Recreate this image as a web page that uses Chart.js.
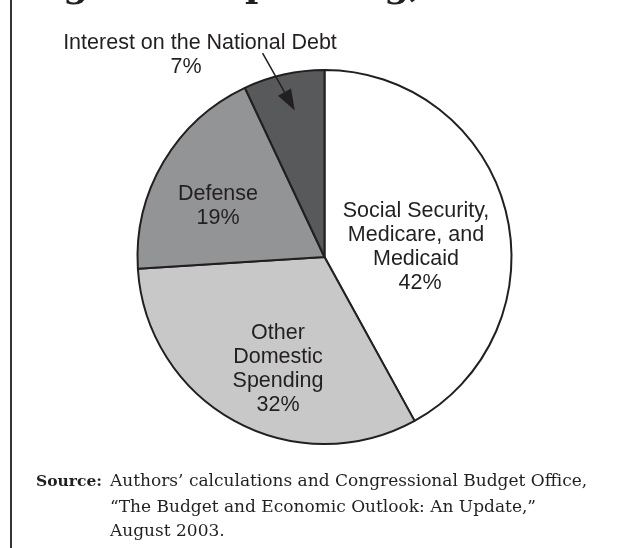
<!DOCTYPE html>
<html lang="en">

<head>
    <meta charset="UTF-8">
    <title>Federal Spending, 2003</title>
    <script src="https://cdn.jsdelivr.net/npm/chart.js"></script>
    <style>
        body { margin: 0; background: #fff; }
        #wrap { position: relative; width: 626px; height: 548px; overflow: hidden; }
        #wrap canvas { position: absolute; left: 0; top: 0; }
        .frame { position: absolute; left: 10px; top: 0; width: 2px; height: 548px; background: #333; }
        .title { position: absolute; left: 24px; top: -37px; font: bold 36px "DejaVu Serif", serif; color: #231f20; white-space: nowrap; }
        .lbl { position: absolute; font: 21.5px "Liberation Sans", Arial, sans-serif; line-height: 24px; color: #231f20; text-align: center; white-space: nowrap; transform: translate(-50%, -50%); }
        .lbl span { position: relative; }
        .source { position: absolute; left: 36px; top: 468px; font: 17px "DejaVu Serif", serif; line-height: 24.5px; color: #231f20; white-space: nowrap; }
        .source b { display: inline-block; width: 74px; font-size: 15.5px; }
        .source div { padding-left: 74px; }
    </style>
</head>

<body>
    <div id="wrap">
        <canvas id="pie" width="626" height="548"></canvas>
        <div class="frame"></div>
        <div class="title">Figure 1. Spending, 2003</div>
        <div id="labels"></div>
        <div class="source">
            <b>Source:</b>Authors’ calculations and Congressional Budget Office,
            <div>“The Budget and Economic Outlook: An Update,”</div>
            <div>August 2003.</div>
        </div>
    </div>

    <script>
        // shares of federal spending, clockwise from 12 o'clock
        const categories = ['Social Security, Medicare, and Medicaid', 'Other Domestic Spending', 'Defense', 'Interest on the National Debt'];
        const shares = [42, 32, 19, 7];
        const labelLines = [
            ['Social Security,', 'Medicare, and', 'Medicaid', '42%'],
            ['Other', 'Domestic', 'Spending', '32%'],
            ['Defense', '19%'],
            ['Interest on the National Debt', '7%']
        ];
        const fills = ['#ffffff', '#c8c8c9', '#939495', '#58595b'];

        // where each label block sits (center, px) and how far its last line is nudged
        const labelSpots = [[416, 246], [278, 368], [218, 205], [200, 54]];
        const lastNudge = [4, 0, 0, -14];
        const holder = document.getElementById('labels');
        labelLines.forEach((lines, i) => {
            const d = document.createElement('div');
            d.className = 'lbl';
            d.style.left = labelSpots[i][0] + 'px';
            d.style.top = labelSpots[i][1] + 'px';
            const head = lines.slice(0, -1).join('<br>');
            d.innerHTML = head + '<br><span style="left:' + lastNudge[i] + 'px">' + lines[lines.length - 1] + '</span>';
            holder.appendChild(d);
        });

        // arrow from the interest label into its slice
        const arrowPlugin = {
            id: 'arrow',
            afterDatasetsDraw(chart) {
                const arc = chart.getDatasetMeta(0).data[3];
                const { x, y, startAngle, endAngle, outerRadius } = arc.getProps(['x', 'y', 'startAngle', 'endAngle', 'outerRadius'], true);
                const mid = (startAngle + endAngle) / 2;
                const tip = [x + Math.cos(mid + 0.02) * outerRadius * 0.8, y + Math.sin(mid + 0.02) * outerRadius * 0.8];
                const tailA = startAngle + (endAngle - startAngle) * 0.33;
                const tail = [x + Math.cos(tailA) * outerRadius * 1.14, y + Math.sin(tailA) * outerRadius * 1.14];
                const ctx = chart.ctx;
                const ang = Math.atan2(tip[1] - tail[1], tip[0] - tail[0]);
                const head = 21, half = 7.5;
                const base = [tip[0] - Math.cos(ang) * head, tip[1] - Math.sin(ang) * head];
                ctx.save();
                ctx.strokeStyle = '#231f20';
                ctx.fillStyle = '#231f20';
                ctx.lineWidth = 1.5;
                ctx.beginPath();
                ctx.moveTo(tail[0], tail[1]);
                ctx.lineTo(base[0], base[1]);
                ctx.stroke();
                ctx.beginPath();
                ctx.moveTo(tip[0], tip[1]);
                ctx.lineTo(base[0] - Math.sin(ang) * half, base[1] + Math.cos(ang) * half);
                ctx.lineTo(base[0] + Math.sin(ang) * half, base[1] - Math.cos(ang) * half);
                ctx.closePath();
                ctx.fill();
                ctx.restore();
            }
        };

        new Chart(document.getElementById('pie'), {
            type: 'pie',
            data: {
                labels: categories,
                datasets: [{
                    data: shares,
                    backgroundColor: fills,
                    borderColor: '#231f20',
                    borderWidth: 2
                }]
            },
            options: {
                responsive: false,
                animation: false,
                events: [],
                layout: { padding: { left: 136, right: 113, top: 69, bottom: 103 } },
                plugins: {
                    legend: { display: false },
                    tooltip: { enabled: false }
                }
            },
            plugins: [arrowPlugin]
        });
    </script>

</body>

</html>
